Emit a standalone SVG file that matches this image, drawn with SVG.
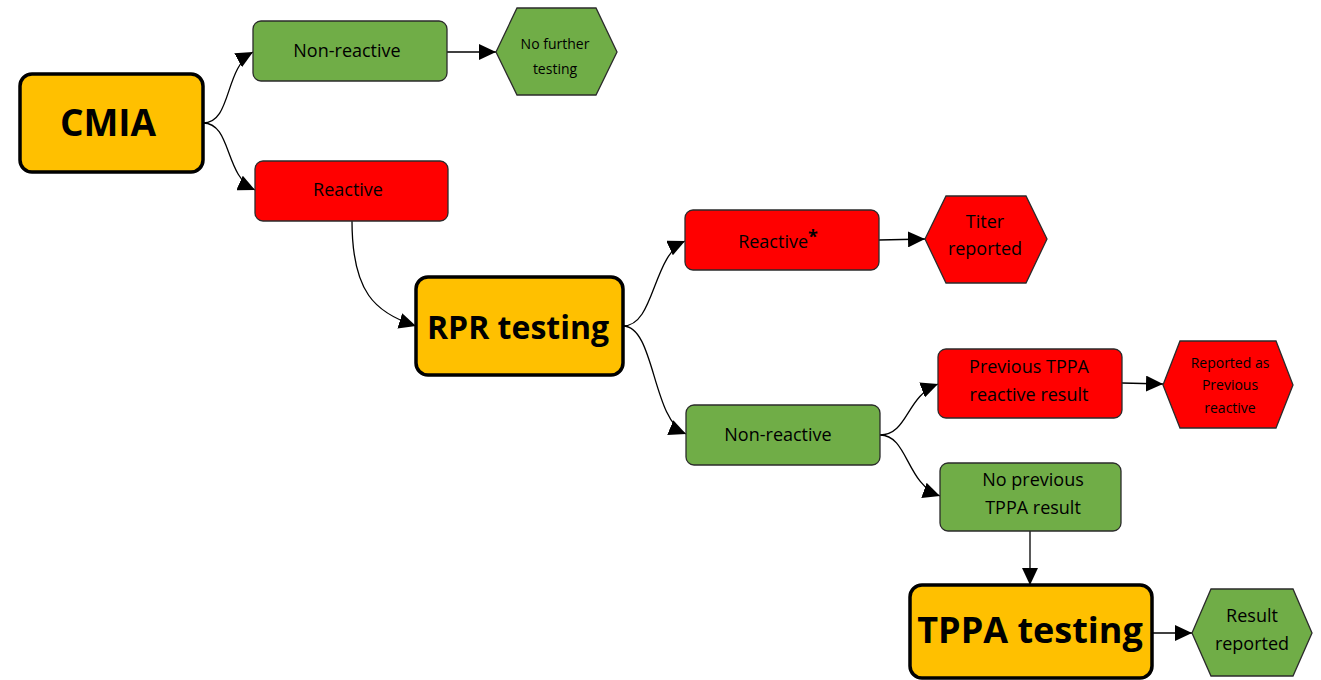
<svg xmlns="http://www.w3.org/2000/svg" width="1321" height="680" viewBox="0 0 1321 680">
  <style>
    .lbl { font-family: "Open Sans", "Liberation Sans", sans-serif; fill: #000; text-anchor: middle; }
    .big { font-family: "Open Sans", "Liberation Sans", sans-serif; font-weight: bold; fill: #000; text-anchor: middle; }
    .main { fill: #FFC000; stroke: #000; stroke-width: 3.5; }
    .green { fill: #70AD47; stroke: #2b2b2b; stroke-width: 1.3; }
    .red { fill: #FF0000; stroke: #2b2b2b; stroke-width: 1.3; }
    .conn path { fill: none; stroke: #000; stroke-width: 1.3; marker-end: url(#arrow); }
  </style>
  <defs>
    <marker id="arrow" markerUnits="userSpaceOnUse" markerWidth="18" markerHeight="16" refX="17" refY="8" orient="auto">
      <path d="M0,0 L17,8 L0,16 Z" fill="#000"/>
    </marker>
  </defs>
  <rect width="1321" height="680" fill="#fff"/>

  <!-- connectors -->
  <g id="connectors" class="conn">
    <path d="M203,123 C232,123 224,68 253,52"/>
    <path d="M203,123 C232,123 224,176 255,190"/>
    <path d="M447,52 L496,52"/>
    <path d="M352,221 C352,292 375,313 416,326"/>
    <path d="M623,326 C655,326 652,256 685,241"/>
    <path d="M623,326 C655,326 652,420 686,434"/>
    <path d="M879,240 L925,239"/>
    <path d="M880,435 C908,435 906,396 938,384"/>
    <path d="M880,435 C908,435 906,484 940,496"/>
    <path d="M1122,383 L1163,384"/>
    <path d="M1030,531 L1030,585"/>
    <path d="M1152,633 L1192,633"/>
  </g>

  <g id="cmia">
    <rect class="main" x="20" y="74" width="183" height="98" rx="12"/>
    <text class="big" x="108" y="136" font-size="37">CMIA</text>
  </g>
  <g id="cmia-nonreactive">
    <rect class="green" x="253" y="21" width="194" height="60" rx="8"/>
    <text class="lbl" x="347" y="57" font-size="18">Non-reactive</text>
  </g>
  <g id="no-further-testing">
    <polygon class="green" points="496,52 517,8 596,8 617,52 596,95 517,95"/>
    <text class="lbl" x="555" y="49" font-size="14">No further</text>
    <text class="lbl" x="555" y="74" font-size="14">testing</text>
  </g>
  <g id="cmia-reactive">
    <rect class="red" x="255" y="161" width="193" height="60" rx="8"/>
    <text class="lbl" x="348" y="196" font-size="18">Reactive</text>
  </g>
  <g id="rpr">
    <rect class="main" x="416" y="277" width="207" height="98" rx="12"/>
    <text class="big" x="518" y="339" font-size="32">RPR testing</text>
  </g>
  <g id="rpr-reactive">
    <rect class="red" x="685" y="210" width="194" height="60" rx="8"/>
    <text class="lbl" x="778" y="248" font-size="18">Reactive<tspan font-weight="bold" font-size="18" dy="-5">*</tspan></text>
  </g>
  <g id="titer-reported">
    <polygon class="red" points="925,239 946,196 1026,196 1047,239 1026,283 946,283"/>
    <text class="lbl" x="985" y="228" font-size="18">Titer</text>
    <text class="lbl" x="985" y="255" font-size="18">reported</text>
  </g>
  <g id="rpr-nonreactive">
    <rect class="green" x="686" y="405" width="194" height="60" rx="8"/>
    <text class="lbl" x="778" y="441" font-size="18">Non-reactive</text>
  </g>
  <g id="previous-tppa-reactive">
    <rect class="red" x="938" y="349" width="184" height="69" rx="8"/>
    <text class="lbl" x="1029" y="373" font-size="18">Previous TPPA</text>
    <text class="lbl" x="1029" y="401" font-size="18">reactive result</text>
  </g>
  <g id="reported-previous-reactive">
    <polygon class="red" points="1163,385 1180,341 1276,341 1293,385 1276,428 1180,428"/>
    <text class="lbl" x="1230" y="368" font-size="14">Reported as</text>
    <text class="lbl" x="1230" y="390" font-size="14">Previous</text>
    <text class="lbl" x="1230" y="413" font-size="14">reactive</text>
  </g>
  <g id="no-previous-tppa">
    <rect class="green" x="940" y="463" width="181" height="68" rx="8"/>
    <text class="lbl" x="1033" y="486" font-size="18">No previous</text>
    <text class="lbl" x="1033" y="514" font-size="18">TPPA result</text>
  </g>
  <g id="tppa">
    <rect class="main" x="910" y="585" width="242" height="93" rx="12"/>
    <text class="big" x="1030" y="643" font-size="36">TPPA testing</text>
  </g>
  <g id="result-reported">
    <polygon class="green" points="1192,633 1211,589 1293,589 1312,633 1293,676 1211,676"/>
    <text class="lbl" x="1252" y="622" font-size="18">Result</text>
    <text class="lbl" x="1252" y="650" font-size="18">reported</text>
  </g>
</svg>
